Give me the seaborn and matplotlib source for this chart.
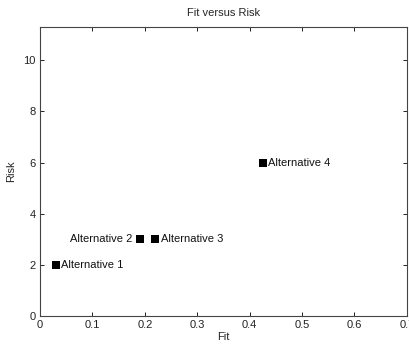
import matplotlib
matplotlib.use("Agg")
import matplotlib.pyplot as plt
import seaborn as sns
import pandas as pd

names = ["Alternative 1", "Alternative 2", "Alternative 3", "Alternative 4"]
fit = [0.03, 0.19, 0.22, 0.425]
risk = [2, 3, 3, 6]
label_side = ["right", "left", "right", "right"]
xticks = [0, 0.1, 0.2, 0.3, 0.4, 0.5, 0.6, 0.7]
yticks = [0, 2, 4, 6, 8, 10]

sns.set_theme(style="white")
plt.rcParams['font.family'] = ['Liberation Sans', 'DejaVu Sans']

df = pd.DataFrame({"Fit": fit, "Risk": risk, "name": names})

fig = plt.figure(figsize=(4.09, 3.44), dpi=100)
ax = fig.add_axes([0.0978, 0.0814, 0.897, 0.840])
sns.scatterplot(data=df, x="Fit", y="Risk", marker="s", color="black",
                s=32, edgecolor="black", linewidth=0, ax=ax)

for x, y, n, side in zip(fit, risk, names, label_side):
    if side == "right":
        ax.annotate(n, (x, y), xytext=(4, 0), textcoords="offset points",
                    ha="left", va="center", fontsize=8, color="#111111")
    else:
        ax.annotate(n, (x, y), xytext=(-5, 0), textcoords="offset points",
                    ha="right", va="center", fontsize=8, color="#111111")

ax.set_xlim(0, 0.7)
ax.set_ylim(0, 11.3)
ax.set_xticks(xticks)
ax.set_xticklabels([("%g" % v) for v in xticks])
ax.set_yticks(yticks)
ax.tick_params(direction="in", length=3, width=0.7, labelsize=8, colors="#222222",
               top=True, right=True, bottom=True, left=True, pad=3)
for sp in ax.spines.values():
    sp.set_visible(True)
    sp.set_color("#444444")
    sp.set_linewidth(0.8)
ax.set_xlabel("Fit", fontsize=8, labelpad=1)
ax.set_ylabel("Risk", fontsize=8, labelpad=5)
ax.set_title("Fit versus Risk", fontsize=8, pad=8)

fig.savefig("out.png", dpi=100)
